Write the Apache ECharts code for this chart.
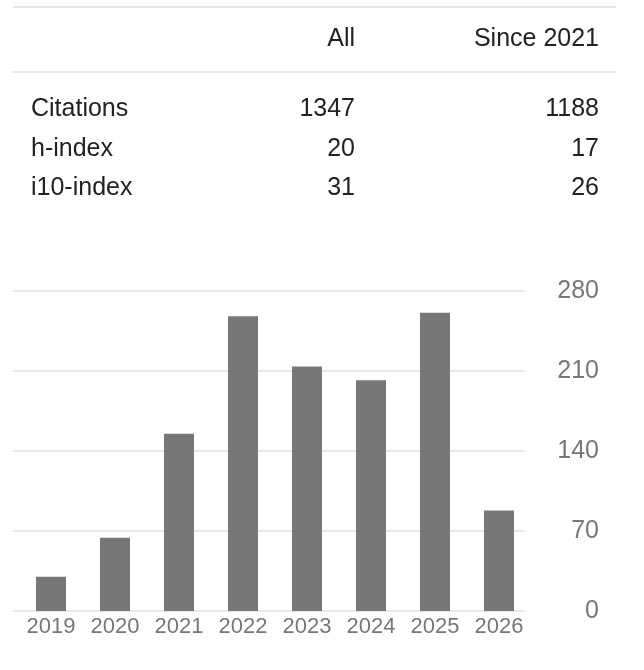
<!DOCTYPE html>
<html>
<head>
<meta charset="utf-8">
<script src="https://cdn.jsdelivr.net/npm/echarts@6/dist/echarts.min.js"></script>
<style>
html,body{margin:0;padding:0;background:#fff;}
#chart{width:644px;height:670px;}
</style>
</head>
<body>
<div id="chart"></div>
<script>
var years = ['2019','2020','2021','2022','2023','2024','2025','2026'];
var citationsPerYear = [30, 64, 155, 258, 214, 202, 261, 88];
var yTicks = [0, 70, 140, 210, 280];
var tableHeaders = ['All', 'Since 2021'];
var metricNames = ['Citations', 'h-index', 'i10-index'];
var allValues = [1347, 20, 31];
var sinceValues = [1188, 17, 26];

var FONT = 'Arial, "Liberation Sans", Helvetica, sans-serif';
var chart = echarts.init(document.getElementById('chart'), null, {renderer: 'canvas'});

var graphics = [];
graphics.push({type: 'rect', shape: {x: 13, y: 6, width: 603, height: 2}, style: {fill: '#e6e6e6'}, silent: true});
graphics.push({type: 'rect', shape: {x: 13, y: 71, width: 603, height: 2}, style: {fill: '#e6e6e6'}, silent: true});
var colRight = [355, 599];
tableHeaders.forEach(function (h, i) {
  graphics.push({type: 'text', x: colRight[i], y: 39, style: {text: h, font: '25px ' + FONT, fill: '#222', align: 'right', verticalAlign: 'middle'}});
});
var rowY = [109, 149, 188];
metricNames.forEach(function (m, i) {
  graphics.push({type: 'text', x: 31, y: rowY[i], style: {text: m, font: '25px ' + FONT, fill: '#222', align: 'left', verticalAlign: 'middle'}});
  graphics.push({type: 'text', x: colRight[0], y: rowY[i], style: {text: String(allValues[i]), font: '25px ' + FONT, fill: '#222', align: 'right', verticalAlign: 'middle'}});
  graphics.push({type: 'text', x: colRight[1], y: rowY[i], style: {text: String(sinceValues[i]), font: '25px ' + FONT, fill: '#222', align: 'right', verticalAlign: 'middle'}});
});

var yMin = yTicks[0], yMax = yTicks[yTicks.length - 1], yInt = yTicks[1] - yTicks[0];

chart.setOption({
  animation: false,
  backgroundColor: '#fff',
  textStyle: {fontFamily: FONT},
  graphic: graphics,
  grid: [
    {left: 13, right: 119, top: 291, bottom: 59},
    {left: 19, right: 113, top: 291, bottom: 59}
  ],
  xAxis: [
    {type: 'category', gridIndex: 0, data: years, show: false},
    {type: 'category', gridIndex: 1, data: years,
     axisLine: {show: false}, axisTick: {show: false},
     axisLabel: {fontSize: 22, color: '#777', margin: 5, fontFamily: FONT}}
  ],
  yAxis: [
    {type: 'value', gridIndex: 0, position: 'right', min: yMin, max: yMax, interval: yInt,
     axisLine: {show: false}, axisTick: {show: false},
     splitLine: {show: true, lineStyle: {color: '#e8e8e8', width: 2}},
     axisLabel: {fontSize: 25, color: '#777', align: 'right', margin: 74, fontFamily: FONT}},
    {type: 'value', gridIndex: 1, min: yMin, max: yMax, interval: yInt, show: false}
  ],
  series: [{
    type: 'bar',
    xAxisIndex: 1, yAxisIndex: 1,
    data: citationsPerYear,
    barWidth: 30,
    itemStyle: {color: '#777777'},
    silent: true
  }]
});
</script>
</body>
</html>
